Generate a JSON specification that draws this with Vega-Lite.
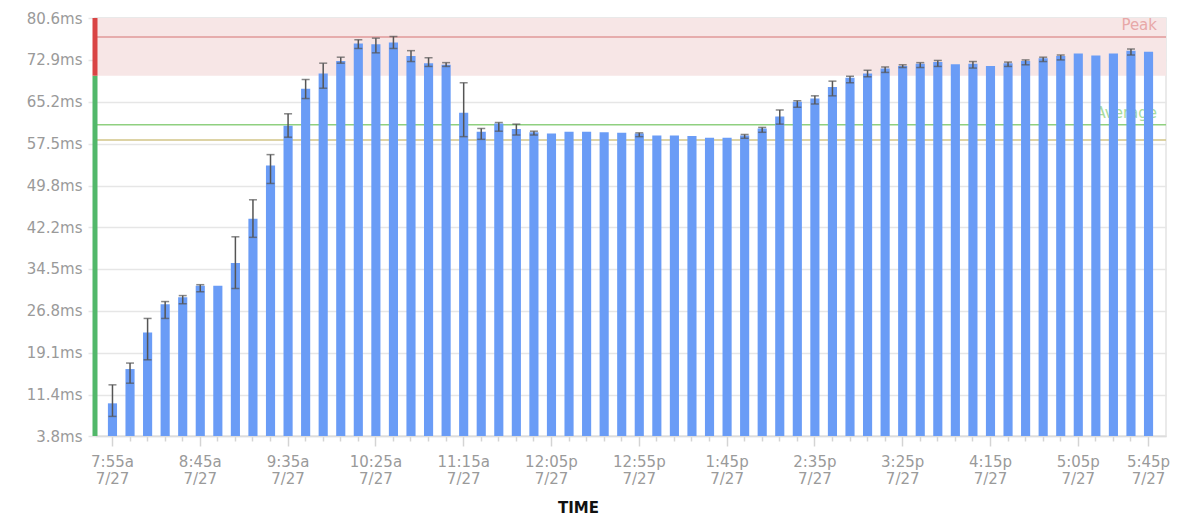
{
  "$schema": "https://vega.github.io/schema/vega-lite/v6.json",
  "autosize": "none",
  "padding": {"left": 95, "top": 18, "right": 12, "bottom": 84},
  "width": 1071,
  "height": 418,
  "background": "white",
  "config": {"view": {"stroke": "#e4e4e4", "strokeWidth": 1.5}, "font": "DejaVu Sans"},
  "datasets": {
    "bars": [
      {"t": "7:55a", "v": 9.8, "lo": 7.4, "hi": 13.2},
      {"t": "8:05a", "v": 16.1, "lo": 13.5, "hi": 17.2},
      {"t": "8:15a", "v": 22.8, "lo": 17.8, "hi": 25.4},
      {"t": "8:25a", "v": 28.0, "lo": 25.4, "hi": 28.5},
      {"t": "8:35a", "v": 29.3, "lo": 28.1, "hi": 29.6},
      {"t": "8:45a", "v": 31.4, "lo": 30.3, "hi": 31.6},
      {"t": "8:55a", "v": 31.4, "lo": null, "hi": null},
      {"t": "9:05a", "v": 35.6, "lo": 30.9, "hi": 40.4},
      {"t": "9:15a", "v": 43.7, "lo": 40.3, "hi": 47.2},
      {"t": "9:25a", "v": 53.5, "lo": 50.2, "hi": 55.5},
      {"t": "9:35a", "v": 60.8, "lo": 58.7, "hi": 63.0},
      {"t": "9:45a", "v": 67.6, "lo": 65.8, "hi": 69.3},
      {"t": "9:55a", "v": 70.4, "lo": 67.7, "hi": 72.3},
      {"t": "10:05a", "v": 72.7, "lo": 72.3, "hi": 73.4},
      {"t": "10:15a", "v": 75.9, "lo": 75.0, "hi": 76.6},
      {"t": "10:25a", "v": 75.8, "lo": 74.2, "hi": 76.9},
      {"t": "10:35a", "v": 76.1, "lo": 75.0, "hi": 77.2},
      {"t": "10:45a", "v": 73.6, "lo": 72.6, "hi": 74.6},
      {"t": "10:55a", "v": 72.3, "lo": 71.7, "hi": 73.3},
      {"t": "11:05a", "v": 72.0, "lo": 71.7, "hi": 72.4},
      {"t": "11:15a", "v": 63.2, "lo": 58.8, "hi": 68.7},
      {"t": "11:25a", "v": 59.7, "lo": 58.3, "hi": 60.3},
      {"t": "11:35a", "v": 61.2, "lo": 59.8, "hi": 61.4},
      {"t": "11:45a", "v": 60.2, "lo": 59.1, "hi": 61.1},
      {"t": "11:55a", "v": 59.6, "lo": 59.1, "hi": 59.8},
      {"t": "12:05p", "v": 59.4, "lo": null, "hi": null},
      {"t": "12:15p", "v": 59.7, "lo": null, "hi": null},
      {"t": "12:25p", "v": 59.7, "lo": null, "hi": null},
      {"t": "12:35p", "v": 59.6, "lo": null, "hi": null},
      {"t": "12:45p", "v": 59.5, "lo": null, "hi": null},
      {"t": "12:55p", "v": 59.4, "lo": 58.8, "hi": 59.5},
      {"t": "1:05p", "v": 59.0, "lo": null, "hi": null},
      {"t": "1:15p", "v": 59.0, "lo": null, "hi": null},
      {"t": "1:25p", "v": 58.9, "lo": null, "hi": null},
      {"t": "1:35p", "v": 58.6, "lo": null, "hi": null},
      {"t": "1:45p", "v": 58.6, "lo": null, "hi": null},
      {"t": "1:55p", "v": 59.0, "lo": 58.5, "hi": 59.2},
      {"t": "2:05p", "v": 60.3, "lo": 59.6, "hi": 60.5},
      {"t": "2:15p", "v": 62.5, "lo": 61.1, "hi": 63.7},
      {"t": "2:25p", "v": 65.2, "lo": 64.2, "hi": 65.4},
      {"t": "2:35p", "v": 65.8, "lo": 64.8, "hi": 66.3},
      {"t": "2:45p", "v": 67.9, "lo": 66.3, "hi": 69.0},
      {"t": "2:55p", "v": 69.6, "lo": 68.7, "hi": 69.9},
      {"t": "3:05p", "v": 70.4, "lo": 69.8, "hi": 71.0},
      {"t": "3:15p", "v": 71.3, "lo": 70.6, "hi": 71.6},
      {"t": "3:25p", "v": 71.8, "lo": 71.5, "hi": 72.0},
      {"t": "3:35p", "v": 72.2, "lo": 71.5, "hi": 72.4},
      {"t": "3:45p", "v": 72.5, "lo": 71.7, "hi": 72.8},
      {"t": "3:55p", "v": 72.1, "lo": null, "hi": null},
      {"t": "4:05p", "v": 72.2, "lo": 71.4, "hi": 72.6},
      {"t": "4:15p", "v": 71.8, "lo": null, "hi": null},
      {"t": "4:25p", "v": 72.3, "lo": 71.7, "hi": 72.5},
      {"t": "4:35p", "v": 72.7, "lo": 72.0, "hi": 72.9},
      {"t": "4:45p", "v": 73.2, "lo": 72.6, "hi": 73.4},
      {"t": "4:55p", "v": 73.6, "lo": 72.9, "hi": 73.8},
      {"t": "5:05p", "v": 74.1, "lo": null, "hi": null},
      {"t": "5:15p", "v": 73.7, "lo": null, "hi": null},
      {"t": "5:25p", "v": 74.1, "lo": null, "hi": null},
      {"t": "5:35p", "v": 74.6, "lo": 73.8, "hi": 74.9},
      {"t": "5:45p", "v": 74.4, "lo": null, "hi": null}
    ],
    "zones": [
      {"zone": "normal", "lo": 3.8, "hi": 70.0},
      {"zone": "peak", "lo": 70.0, "hi": 80.6}
    ],
    "refs": [
      {"name": "Peak", "v": 77.1},
      {"name": "Average", "v": 61.0},
      {"name": "ref", "v": 58.2}
    ]
  },
  "layer": [
    {
      "data": {"name": "zones"},
      "transform": [{"filter": "datum.zone === 'peak'"}],
      "mark": {"type": "rect", "color": "#f7e6e6"},
      "encoding": {
        "y": {
          "field": "lo", "type": "quantitative",
          "scale": {"domain": [3.8, 80.6], "nice": false, "zero": false},
          "axis": {
            "title": null, "values": [3.8, 11.4, 19.1, 26.8, 34.5, 42.2, 49.8, 57.5, 65.2, 72.9, 80.6],
            "format": ".1f", "labelExpr": "datum.label + 'ms'",
            "labelFontSize": 15, "labelColor": "#9a9a9a", "labelPadding": 6,
            "tickSize": 7, "tickColor": "#e6e6e6", "tickWidth": 1.5,
            "domain": false, "gridColor": "#e6e6e6", "gridWidth": 1.5
          }
        },
        "y2": {"field": "hi"}
      }
    },
    {
      "data": {"name": "refs"},
      "transform": [{"filter": "datum.name === 'Peak'"}],
      "mark": {"type": "rule", "color": "#e09898", "strokeWidth": 1.5},
      "encoding": {"y": {"field": "v", "type": "quantitative"}}
    },
    {
      "data": {"name": "refs"},
      "transform": [{"filter": "datum.name === 'Average'"}],
      "mark": {"type": "rule", "color": "#8fd080", "strokeWidth": 1.5},
      "encoding": {"y": {"field": "v", "type": "quantitative"}}
    },
    {
      "data": {"name": "refs"},
      "transform": [{"filter": "datum.name === 'ref'"}],
      "mark": {"type": "rule", "color": "#d2c487", "strokeWidth": 1.5},
      "encoding": {"y": {"field": "v", "type": "quantitative"}}
    },
    {
      "data": {"name": "refs"},
      "transform": [{"filter": "datum.name === 'Peak'"}],
      "mark": {"type": "text", "color": "#e8a8a8", "fontSize": 15, "align": "right", "baseline": "alphabetic", "dx": -9, "dy": -7},
      "encoding": {"y": {"field": "v", "type": "quantitative"}, "x": {"value": "width"}, "text": {"field": "name"}}
    },
    {
      "data": {"name": "refs"},
      "transform": [{"filter": "datum.name === 'Average'"}],
      "mark": {"type": "text", "color": "#a8dc9c", "fontSize": 15, "align": "right", "baseline": "alphabetic", "dx": -9, "dy": -7},
      "encoding": {"y": {"field": "v", "type": "quantitative"}, "x": {"value": "width"}, "text": {"field": "name"}}
    },
    {
      "data": {"name": "bars"},
      "mark": {"type": "bar", "color": "#6a9cf6"},
      "encoding": {
        "x": {
          "field": "t", "type": "ordinal", "sort": null,
          "scale": {"paddingInner": 0.48, "paddingOuter": 0.735},
          "axis": {
            "title": "TIME", "titleFont": "DejaVu Sans", "titleFontWeight": "bold", "titleFontSize": 15, "titleColor": "#111", "titlePadding": 14, "titleX": 483,
            "labelExpr": "indexof(['7:55a','8:45a','9:35a','10:25a','11:15a','12:05p','12:55p','1:45p','2:35p','3:25p','4:15p','5:05p','5:45p'], datum.value) >= 0 ? [datum.value, '7/27'] : ''",
            "labelAngle": 0, "labelFontSize": 15, "labelColor": "#9a9a9a", "labelLineHeight": 17, "labelPadding": 8, "labelOverlap": false,
            "tickColor": "#d4d4d4", "tickWidth": 1.5,
            "tickSize": {"condition": {"test": "indexof(['7:55a','8:45a','9:35a','10:25a','11:15a','12:05p','12:55p','1:45p','2:35p','3:25p','4:15p','5:05p','5:45p'], datum.value) >= 0", "value": 10}, "value": 5},
            "domainColor": "#dddddd", "domainWidth": 1.5, "grid": false
          }
        },
        "y": {"field": "v", "type": "quantitative"},
        "y2": {"datum": 3.8}
      }
    },
    {
      "data": {"name": "bars"},
      "transform": [{"filter": "datum.lo != null"}],
      "mark": {"type": "rule", "color": "#555555", "strokeWidth": 1.5},
      "encoding": {
        "x": {"field": "t", "type": "ordinal", "sort": null},
        "y": {"field": "lo", "type": "quantitative"},
        "y2": {"field": "hi"}
      }
    },
    {
      "data": {"name": "bars"},
      "transform": [{"filter": "datum.lo != null"}],
      "mark": {"type": "tick", "color": "#555555", "size": 8, "thickness": 1.5},
      "encoding": {
        "x": {"field": "t", "type": "ordinal", "sort": null},
        "y": {"field": "lo", "type": "quantitative"}
      }
    },
    {
      "data": {"name": "bars"},
      "transform": [{"filter": "datum.lo != null"}],
      "mark": {"type": "tick", "color": "#555555", "size": 8, "thickness": 1.5},
      "encoding": {
        "x": {"field": "t", "type": "ordinal", "sort": null},
        "y": {"field": "hi", "type": "quantitative"}
      }
    },
    {
      "data": {"name": "zones"},
      "mark": {"type": "rule", "strokeWidth": 5},
      "encoding": {
        "x": {"value": 0},
        "y": {"field": "lo", "type": "quantitative"},
        "y2": {"field": "hi"},
        "color": {"field": "zone", "type": "nominal", "scale": {"domain": ["normal", "peak"], "range": ["#52b86a", "#d94444"]}, "legend": null}
      }
    }
  ]
}
